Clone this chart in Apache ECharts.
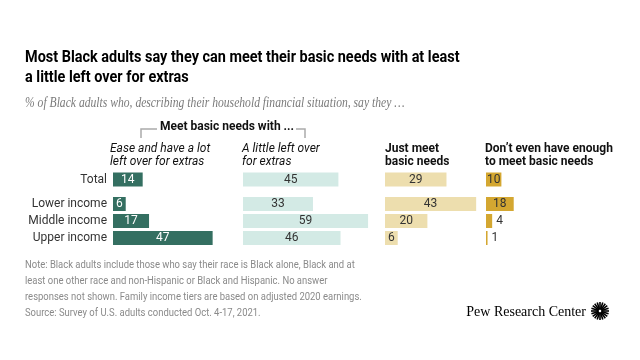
<!DOCTYPE html>
<html><head><meta charset="utf-8">
<script src="https://cdn.jsdelivr.net/npm/echarts@6/dist/echarts.min.js"></script>
<style>html,body{margin:0;padding:0;background:#fff}#c{width:640px;height:360px}</style>
</head><body><div id="c"></div>
<script>
// ---- data ----
const groups = ['Total', 'Lower income', 'Middle income', 'Upper income'];
const ease = [14, 6, 17, 47];
const littleLeft = [45, 33, 59, 46];
const justMeet = [29, 43, 20, 6];
const notEnough = [10, 18, 4, 1];
const columnHeaders = [
  'Ease and have a lot\nleft over for extras',
  'A little left over\nfor extras',
  'Just meet\nbasic needs',
  'Don\u2019t even have enough\nto meet basic needs'
];
const groupHeader = 'Meet basic needs with ...';
const titleText = 'Most Black adults say they can meet their basic needs with at least\na little left over for extras';
const subtitleText = '% of Black adults who, describing their household financial situation, say they \u2026';
const noteText = 'Note: Black adults include those who say their race is Black alone, Black and at\nleast one other race and non-Hispanic or Black and Hispanic. No answer\nresponses not shown. Family income tiers are based on adjusted 2020 earnings.\nSource: Survey of U.S. adults conducted Oct. 4-17, 2021.';
const brandText = 'Pew Research Center';

// ---- layout / style ----
const panels = [
  {vals: ease, color: '#346f61', label: '#ffffff', left: 113, italic: true},
  {vals: littleLeft, color: '#d3eae5', label: '#333333', left: 243, italic: true},
  {vals: justMeet, color: '#eddeae', label: '#333333', left: 385, italic: false},
  {vals: notEnough, color: '#d4a731', label: '#333333', left: 486, italic: false}
];
const rowGroups = [
  {cats: groups.slice(0, 1), from: 0, top: 171, height: 17},
  {cats: groups.slice(1), from: 1, top: 195.5, height: 51}
];
const SANS = 'Roboto, "Liberation Sans", sans-serif';

const grid = [], xAxis = [], yAxis = [], series = [];
panels.forEach((p, pi) => {
  rowGroups.forEach((rg, ri) => {
    const idx = grid.length;
    grid.push({left: p.left, top: rg.top, width: 212, height: rg.height, containLabel: false});
    xAxis.push({type: 'value', gridIndex: idx, min: 0, max: 100, show: false});
    yAxis.push({
      type: 'category', gridIndex: idx, data: rg.cats, inverse: true,
      axisLine: {show: false}, axisTick: {show: false}, splitLine: {show: false},
      axisLabel: {show: pi === 0, margin: 6, color: '#333', fontSize: 12, fontFamily: SANS}
    });
    const vals = p.vals.slice(rg.from, rg.from + rg.cats.length);
    series.push({
      type: 'bar', xAxisIndex: idx, yAxisIndex: idx, barWidth: 14, silent: true,
      itemStyle: {color: p.color},
      label: {show: true, position: 'inside', color: p.label, fontSize: 12, fontFamily: SANS},
      data: vals.map(v => (v < 5 ? {value: v, label: {position: 'right', distance: 4, color: '#333'}} : v))
    });
  });
});

// sunburst logo rays
const rays = [];
const cx = 600, cy = 311;
for (let i = 0; i < 20; i++) {
  const a = i * Math.PI * 2 / 20;
  rays.push({type: 'line', shape: {x1: cx + Math.cos(a) * 1.5, y1: cy + Math.sin(a) * 1.5, x2: cx + Math.cos(a) * 9, y2: cy + Math.sin(a) * 9}, style: {stroke: '#000', lineWidth: 1.6}});
}

const graphic = [
  {type: 'text', x: 25, y: 48, scaleX: 0.85, style: {text: titleText, font: 'bold 17px Roboto, sans-serif', fill: '#000', lineHeight: 20}},
  {type: 'text', x: 25, y: 103, scaleX: 0.83, style: {text: subtitleText, font: 'italic 14px "Liberation Serif", serif', fill: '#7a7a7a', verticalAlign: 'middle'}},
  {type: 'text', x: 227, y: 127, style: {text: groupHeader, font: 'bold 12px ' + SANS, fill: '#111', align: 'center', verticalAlign: 'middle'}},
  {type: 'polyline', shape: {points: [[141, 138], [141, 129], [157, 129]]}, style: {stroke: '#aaa', lineWidth: 1.5, fill: null}},
  {type: 'polyline', shape: {points: [[296, 129], [305, 129], [305, 138]]}, style: {stroke: '#aaa', lineWidth: 1.5, fill: null}},
  {type: 'text', x: 25, y: 257, scaleX: 0.86, style: {text: noteText, font: '11px ' + SANS, fill: '#8a8a8a', lineHeight: 16}},
  {type: 'text', x: 586, y: 312, style: {text: brandText, font: '14px "Liberation Serif", serif', fill: '#000', align: 'right', verticalAlign: 'middle'}},
  {type: 'group', children: rays}
];
const hx = [110, 242, 385, 485];
columnHeaders.forEach((h, i) => {
  graphic.push({type: 'text', x: hx[i], y: 142.5, style: {text: h, font: (panels[i].italic ? 'italic 12px ' : 'bold 12px ') + SANS, fill: '#111', lineHeight: 13}});
});

const chart = echarts.init(document.getElementById('c'), null, {renderer: 'canvas'});
chart.setOption({animation: false, backgroundColor: '#fff', grid, xAxis, yAxis, series, graphic});
</script></body></html>
